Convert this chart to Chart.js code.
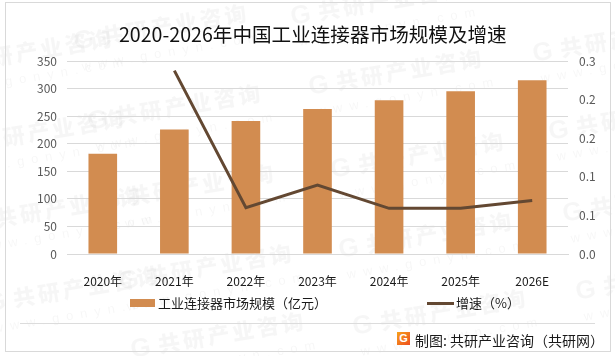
<!DOCTYPE html>
<html>
<head>
<meta charset="utf-8">
<script src="https://cdn.jsdelivr.net/npm/chart.js@4/dist/chart.umd.min.js"></script>
<style>
  html, body { margin: 0; padding: 0; background: #fff; }
  #wrap { position: relative; width: 615px; height: 356px; overflow: hidden; font-family: "Noto Sans CJK SC", sans-serif; color: #1a1a1a; }
  #c { position: absolute; left: 0; top: 0; }
  #frame { position: absolute; left: 5px; top: 2px; width: 604px; height: 348px; border: 1px solid #d9d9d9; }
  #rule { position: absolute; left: 20px; top: 323px; width: 575px; height: 1px; background: #dcdcdc; }
  #title { position: absolute; left: 119px; top: 20px; font-size: 19.6px; line-height: 28px; color: #111; white-space: nowrap; }
  .swatch { position: absolute; background: #D28C50; }
  .lbl { position: absolute; font-size: 13px; line-height: 18px; white-space: nowrap; }
  #logo { position: absolute; left: 397px; top: 332px; width: 13px; height: 13px; background: linear-gradient(135deg, #f7a21b, #ee4d1f); color: #fff; font: bold 11px/13px "Liberation Sans", sans-serif; text-align: center; }
</style>
</head>
<body>
<div id="wrap">
  <canvas id="c" width="615" height="356"></canvas>
  <div id="frame"></div>
  <div id="title"></div>
  <div id="rule"></div>
  <div class="swatch" style="left:130px;top:299px;width:25px;height:8px"></div>
  <div class="lbl" id="legBar" style="left:158px;top:294px"></div>
  <div class="swatch" style="left:427px;top:302px;width:27px;height:3px;background:#634832"></div>
  <div class="lbl" id="legLine" style="left:456px;top:294px"></div>
  <div id="logo">G</div>
  <div class="lbl" style="left:415px;top:331px;font-size:14px">制图: 共研产业咨询（共研网）</div>
</div>
<script>
// categories and values
const categories = ['2020年', '2021年', '2022年', '2023年', '2024年', '2025年', '2026E'];
const marketSize = [182, 226, 241, 263, 279, 295, 315];
const growthRate = [null, 0.285, 0.072, 0.107, 0.071, 0.071, 0.083];
const barLabel = '工业连接器市场规模（亿元）';
const lineLabel = '增速（%）';
const chartTitle = '2020-2026年中国工业连接器市场规模及增速';

// watermark start points, background only
const stamps = [
  [-62, 75], [-50, 155], [-33, 232], [-15, 312],
  [73, 50], [87, 130], [100, 210], [118, 290], [130, 358],
  [290, 25], [308, 95], [330, 178], [338, 258], [352, 335],
  [532, 62], [548, 140], [562, 222], [575, 300]
];

document.getElementById('title').textContent = chartTitle;
document.getElementById('legBar').textContent = barLabel;
document.getElementById('legLine').textContent = lineLabel;

// --- draws the grey company stamps behind the chart ---
const watermark = {
  id: 'watermark',
  beforeDraw(chart) {
    const ctx = chart.ctx;
    ctx.save();
    ctx.fillStyle = 'rgba(0,0,0,0.035)';
    stamps.forEach(([x, y]) => {
      ctx.save();
      ctx.translate(x, y);
      ctx.rotate(-9.5 * Math.PI / 180);
      ctx.letterSpacing = '0px';
      ctx.font = '900 26px "Liberation Sans"';
      ctx.fillText('G', 2, 0);
      ctx.letterSpacing = '3px';
      ctx.font = '900 22px "Noto Sans CJK SC"';
      ctx.fillText('共研产业咨询', 30, 0);
      ctx.letterSpacing = '7px';
      ctx.font = '13px "Liberation Sans"';
      ctx.fillText('www.gonyn.com', 6, 22);
      ctx.restore();
    });
    ctx.restore();
  }
};

new Chart(document.getElementById('c'), {
  type: 'bar',
  data: {
    labels: categories,
    datasets: [
      { type: 'line', label: lineLabel, data: growthRate, yAxisID: 'y1', borderColor: '#634832', borderWidth: 3, pointRadius: 0, tension: 0, order: 0 },
      { type: 'bar', label: barLabel, data: marketSize, yAxisID: 'y', backgroundColor: '#D28C50', barPercentage: 0.4, categoryPercentage: 1, order: 1 }
    ]
  },
  options: {
    responsive: false,
    animation: false,
    layout: { padding: { left: 0, right: 0, top: 61, bottom: 0 } },
    plugins: {
      legend: { display: false },
      tooltip: { enabled: false }
    },
    scales: {
      x: {
        grid: { display: false },
        border: { color: '#d9d9d9' },
        afterFit(axis) { axis.height = 102; },
        ticks: { color: '#1a1a1a', padding: 12, maxRotation: 0, font: { family: '"Noto Sans CJK SC"', size: 12 } }
      },
      y: {
        min: 0, max: 350,
        afterFit(axis) { axis.width = 67; },
        border: { display: false },
        grid: { color: '#d9d9d9', drawTicks: false },
        ticks: { stepSize: 50, color: '#595959', padding: 10, font: { family: '"Noto Sans CJK SC"', size: 12 } }
      },
      y1: {
        position: 'right',
        min: 0, max: 0.3,
        afterFit(axis) { axis.width = 47; },
        border: { display: false },
        grid: { display: false, drawTicks: false },
        ticks: { stepSize: 0.06, color: '#595959', padding: 11, font: { family: '"Noto Sans CJK SC"', size: 12 }, callback: v => v.toFixed(1) }
      }
    }
  },
  plugins: [watermark]
});
</script>
</body>
</html>
